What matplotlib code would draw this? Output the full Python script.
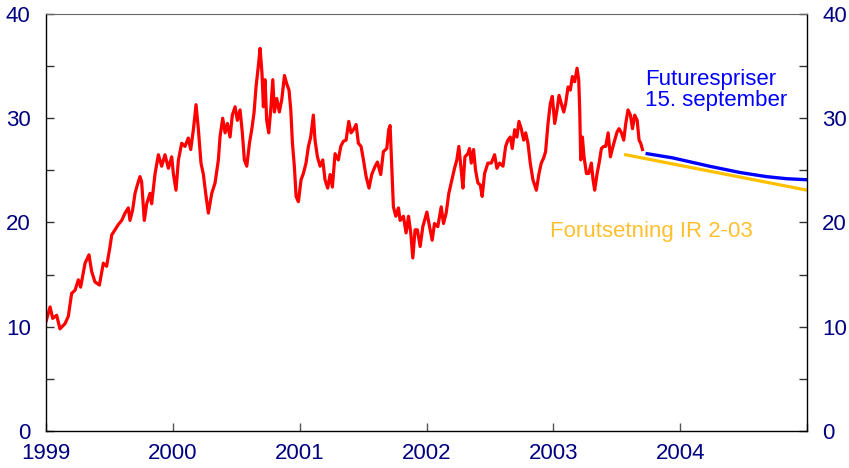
import matplotlib
matplotlib.use("Agg")
import matplotlib.pyplot as plt
from matplotlib.ticker import MultipleLocator

plt.rcParams['font.family'] = ['Liberation Sans', 'DejaVu Sans']

# oil price (USD per barrel) as (year, value)
spot = [
    (1999.000, 10.5), (1999.032, 11.9), (1999.053, 10.8), (1999.084, 11.1), (1999.110, 9.8),
    (1999.150, 10.3), (1999.176, 11.0), (1999.202, 13.2), (1999.229, 13.5), (1999.255, 14.5),
    (1999.273, 13.8), (1999.308, 16.1), (1999.339, 16.9), (1999.360, 15.3), (1999.386, 14.3),
    (1999.421, 14.0), (1999.452, 16.1), (1999.478, 15.8), (1999.505, 17.7), (1999.518, 18.8),
    (1999.544, 19.3), (1999.570, 19.8), (1999.597, 20.2), (1999.623, 20.9), (1999.649, 21.4),
    (1999.662, 20.2), (1999.683, 21.2), (1999.702, 22.8), (1999.720, 23.6), (1999.741, 24.4),
    (1999.754, 23.9), (1999.775, 20.2), (1999.794, 21.8), (1999.820, 22.8), (1999.833, 21.8),
    (1999.860, 24.7), (1999.886, 26.5), (1999.912, 25.4), (1999.938, 26.5), (1999.965, 25.2),
    (1999.991, 26.3), (2000.004, 24.7), (2000.025, 23.1), (2000.044, 26.0), (2000.070, 27.6),
    (2000.096, 27.3), (2000.122, 28.1), (2000.141, 27.0), (2000.162, 28.9), (2000.183, 31.3),
    (2000.201, 29.0), (2000.222, 25.7), (2000.241, 24.6), (2000.259, 22.8), (2000.280, 20.9),
    (2000.307, 22.8), (2000.333, 23.8), (2000.359, 26.0), (2000.372, 28.2), (2000.393, 30.0),
    (2000.412, 28.6), (2000.430, 29.5), (2000.451, 28.2), (2000.469, 30.3), (2000.491, 31.1),
    (2000.509, 29.8), (2000.530, 30.8), (2000.548, 28.6), (2000.564, 26.0), (2000.583, 25.4),
    (2000.604, 27.6), (2000.622, 28.9), (2000.640, 30.5), (2000.656, 33.0), (2000.675, 35.1),
    (2000.688, 36.7), (2000.703, 34.3), (2000.714, 31.1), (2000.727, 33.7), (2000.740, 29.8),
    (2000.756, 28.6), (2000.772, 30.8), (2000.788, 33.7), (2000.801, 30.6), (2000.819, 31.9),
    (2000.840, 30.6), (2000.859, 31.8), (2000.880, 34.1), (2000.898, 33.3), (2000.916, 32.7),
    (2000.930, 30.8), (2000.943, 27.6), (2000.958, 25.4), (2000.972, 22.5), (2000.990, 22.0),
    (2001.011, 24.1), (2001.029, 24.7), (2001.050, 25.7), (2001.069, 27.3), (2001.087, 28.2),
    (2001.108, 30.3), (2001.121, 27.9), (2001.140, 26.3), (2001.161, 25.4), (2001.182, 26.0),
    (2001.200, 24.1), (2001.221, 23.3), (2001.240, 24.6), (2001.258, 23.4), (2001.279, 26.6),
    (2001.305, 26.0), (2001.324, 27.3), (2001.345, 27.8), (2001.366, 27.9), (2001.387, 29.7),
    (2001.405, 28.6), (2001.424, 28.9), (2001.445, 29.4), (2001.463, 27.6), (2001.484, 27.3),
    (2001.503, 26.0), (2001.524, 24.4), (2001.547, 23.3), (2001.568, 24.6), (2001.595, 25.4),
    (2001.613, 25.8), (2001.639, 24.6), (2001.660, 26.8), (2001.687, 27.1), (2001.702, 28.9),
    (2001.713, 29.3), (2001.726, 25.4), (2001.739, 21.5), (2001.758, 20.6), (2001.779, 21.4),
    (2001.792, 20.2), (2001.818, 20.6), (2001.839, 19.0), (2001.858, 20.6), (2001.876, 19.0),
    (2001.892, 16.6), (2001.910, 19.3), (2001.928, 19.3), (2001.950, 17.7), (2001.971, 19.6),
    (2002.003, 21.0), (2002.024, 19.6), (2002.045, 18.3), (2002.063, 19.9), (2002.089, 19.6),
    (2002.116, 21.5), (2002.134, 19.9), (2002.155, 20.9), (2002.176, 22.8), (2002.195, 23.8),
    (2002.221, 25.2), (2002.239, 26.0), (2002.255, 27.3), (2002.274, 25.0), (2002.287, 23.3),
    (2002.303, 26.3), (2002.326, 26.6), (2002.339, 27.1), (2002.353, 25.7), (2002.371, 27.0),
    (2002.387, 25.0), (2002.405, 23.8), (2002.424, 23.6), (2002.439, 22.5), (2002.458, 24.7),
    (2002.484, 25.7), (2002.511, 25.7), (2002.537, 26.5), (2002.555, 25.2), (2002.576, 25.7),
    (2002.603, 25.4), (2002.624, 27.3), (2002.642, 27.9), (2002.661, 28.2), (2002.676, 27.1),
    (2002.695, 28.9), (2002.713, 28.2), (2002.729, 29.7), (2002.747, 29.0), (2002.766, 27.9),
    (2002.782, 28.6), (2002.800, 27.6), (2002.818, 25.7), (2002.839, 24.1), (2002.866, 23.1),
    (2002.887, 24.7), (2002.905, 25.7), (2002.924, 26.2), (2002.939, 26.8), (2002.958, 29.5),
    (2002.976, 31.4), (2002.992, 32.1), (2003.011, 29.5), (2003.029, 30.8), (2003.045, 32.2),
    (2003.063, 31.4), (2003.082, 30.6), (2003.097, 31.4), (2003.116, 33.0), (2003.134, 32.7),
    (2003.150, 34.0), (2003.168, 33.5), (2003.187, 34.8), (2003.200, 33.7), (2003.208, 30.8),
    (2003.216, 26.0), (2003.229, 28.2), (2003.242, 26.3), (2003.261, 24.7), (2003.279, 24.7),
    (2003.300, 25.7), (2003.313, 24.1), (2003.326, 23.1), (2003.345, 24.7), (2003.361, 25.7),
    (2003.379, 27.1), (2003.397, 27.3), (2003.413, 27.3), (2003.432, 28.6), (2003.450, 26.3),
    (2003.466, 27.1), (2003.484, 27.9), (2003.503, 28.7), (2003.518, 29.0), (2003.537, 28.6),
    (2003.555, 27.9), (2003.571, 29.5), (2003.589, 30.8), (2003.608, 30.3), (2003.624, 29.0),
    (2003.642, 30.3), (2003.661, 29.8), (2003.676, 27.9), (2003.689, 27.6), (2003.703, 27.0),
]
spot_t = [p[0] for p in spot]
spot_v = [p[1] for p in spot]

# futures prices 15 September
fut_t = [2003.74, 2003.94, 2004.23, 2004.47, 2004.68, 2004.84, 2005.00]
fut_v = [26.6, 26.2, 25.4, 24.8, 24.4, 24.2, 24.1]

# assumption in IR 2-03
ir_t = [2003.57, 2005.00]
ir_v = [26.5, 23.1]

years = [1999, 2000, 2001, 2002, 2003, 2004, 2005]
year_labels = ['1999', '2000', '2001', '2002', '2003', '2004', '']

navy = '#000080'
fs = 16

fig = plt.figure(figsize=(8.49, 4.68), dpi=100)
ax = fig.add_axes([46 / 849, 37 / 468, 761 / 849, 417 / 468])

ax.plot(spot_t, spot_v, color='#ff0000', lw=2.3, solid_joinstyle='round')
ax.plot(fut_t, fut_v, color='#0000ff', lw=2.4)
ax.plot(ir_t, ir_v, color='#ffc000', lw=2.3)

ax.set_xlim(1999, 2005)
ax.set_ylim(0, 40)
ax.set_xticks(years)
ax.set_xticklabels(year_labels)
ax.yaxis.set_major_locator(MultipleLocator(10))
ax.yaxis.set_minor_locator(MultipleLocator(5))

ax.tick_params(axis='x', direction='in', length=6, width=1, color='#555555',
               labelsize=fs, labelcolor=navy, pad=8.5)
ax.tick_params(axis='y', which='both', direction='in', length=6, width=1, color='#333333',
               labelsize=fs, labelcolor=navy, left=True, right=True,
               labelleft=True, labelright=True, pad=11)

for side in ['left', 'bottom', 'right']:
    ax.spines[side].set_color('black')
    ax.spines[side].set_linewidth(1.0)
ax.spines['top'].set_color('#666666')
ax.spines['top'].set_linewidth(0.8)

ax.text(2003.724, 32.7, 'Futurespriser\n15. september', color='#0000ff', fontsize=fs,
        ha='left', va='center', linespacing=1.0)
ax.text(2003.775, 19.1, 'Forutsetning IR 2-03', color='#ffc030', fontsize=fs,
        ha='center', va='center')

fig.savefig('out.png', dpi=100)
